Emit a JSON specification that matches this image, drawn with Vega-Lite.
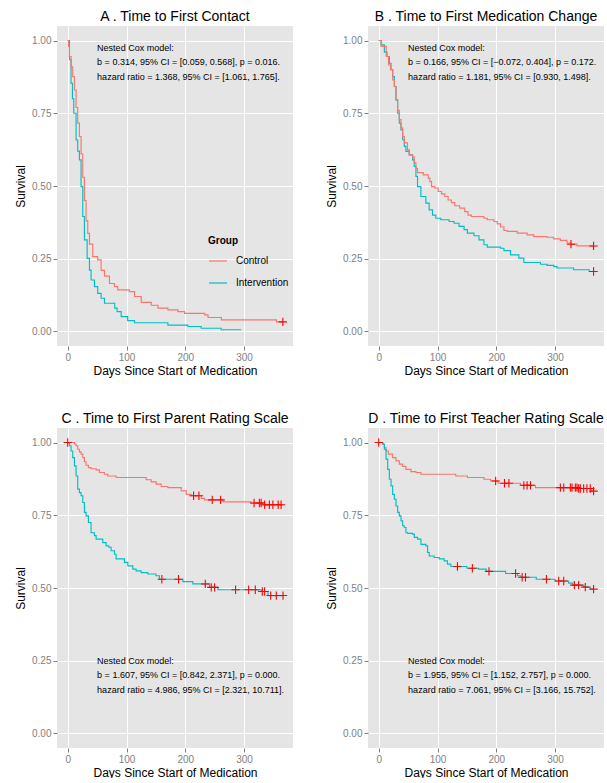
{
  "$schema": "https://vega.github.io/schema/vega-lite/v6.json",
  "padding": {"left": 14, "top": 10, "right": 0, "bottom": 0},
  "background": "#FFFFFF",
  "datasets": {
    "curves": [
      {"p":"A","g":"Intervention","d":0,"s":1},{"p":"A","g":"Intervention","d":3,"s":0.934},{"p":"A","g":"Intervention","d":5.7,"s":0.853},{"p":"A","g":"Intervention","d":8,"s":0.8},{"p":"A","g":"Intervention","d":10.3,"s":0.75},{"p":"A","g":"Intervention","d":14.2,"s":0.658},{"p":"A","g":"Intervention","d":17,"s":0.62},{"p":"A","g":"Intervention","d":19.9,"s":0.59},{"p":"A","g":"Intervention","d":22.7,"s":0.498},{"p":"A","g":"Intervention","d":25.6,"s":0.395},{"p":"A","g":"Intervention","d":28.4,"s":0.315},{"p":"A","g":"Intervention","d":33,"s":0.251},{"p":"A","g":"Intervention","d":37,"s":0.211},{"p":"A","g":"Intervention","d":39.7,"s":0.177},{"p":"A","g":"Intervention","d":45.4,"s":0.154},{"p":"A","g":"Intervention","d":51,"s":0.131},{"p":"A","g":"Intervention","d":56.8,"s":0.114},{"p":"A","g":"Intervention","d":62.5,"s":0.097},{"p":"A","g":"Intervention","d":80,"s":0.08},{"p":"A","g":"Intervention","d":84,"s":0.068},{"p":"A","g":"Intervention","d":90.9,"s":0.051},{"p":"A","g":"Intervention","d":102,"s":0.037},{"p":"A","g":"Intervention","d":113.6,"s":0.03},{"p":"A","g":"Intervention","d":170.4,"s":0.022},{"p":"A","g":"Intervention","d":204.4,"s":0.017},{"p":"A","g":"Intervention","d":227,"s":0.011},{"p":"A","g":"Intervention","d":261,"s":0.006},{"p":"A","g":"Intervention","d":295,"s":0.006},
      {"p":"A","g":"Control","d":0,"s":1},{"p":"A","g":"Control","d":1.5,"s":0.98},{"p":"A","g":"Control","d":2.8,"s":0.945},{"p":"A","g":"Control","d":5.7,"s":0.91},{"p":"A","g":"Control","d":8.5,"s":0.876},{"p":"A","g":"Control","d":11.4,"s":0.83},{"p":"A","g":"Control","d":14.2,"s":0.77},{"p":"A","g":"Control","d":17,"s":0.716},{"p":"A","g":"Control","d":19.9,"s":0.67},{"p":"A","g":"Control","d":22.7,"s":0.61},{"p":"A","g":"Control","d":25.6,"s":0.53},{"p":"A","g":"Control","d":28.4,"s":0.45},{"p":"A","g":"Control","d":31.2,"s":0.38},{"p":"A","g":"Control","d":34.1,"s":0.337},{"p":"A","g":"Control","d":37,"s":0.3},{"p":"A","g":"Control","d":42.6,"s":0.257},{"p":"A","g":"Control","d":51,"s":0.246},{"p":"A","g":"Control","d":56.8,"s":0.21},{"p":"A","g":"Control","d":62.5,"s":0.19},{"p":"A","g":"Control","d":71,"s":0.165},{"p":"A","g":"Control","d":79.5,"s":0.154},{"p":"A","g":"Control","d":85.2,"s":0.143},{"p":"A","g":"Control","d":105,"s":0.137},{"p":"A","g":"Control","d":113.6,"s":0.12},{"p":"A","g":"Control","d":125,"s":0.1},{"p":"A","g":"Control","d":142,"s":0.09},{"p":"A","g":"Control","d":153.6,"s":0.08},{"p":"A","g":"Control","d":170.4,"s":0.074},{"p":"A","g":"Control","d":187.4,"s":0.068},{"p":"A","g":"Control","d":198.8,"s":0.062},{"p":"A","g":"Control","d":233,"s":0.057},{"p":"A","g":"Control","d":238.6,"s":0.048},{"p":"A","g":"Control","d":261.4,"s":0.04},{"p":"A","g":"Control","d":355,"s":0.033},{"p":"A","g":"Control","d":366,"s":0.033},
      {"p":"B","g":"Intervention","d":0,"s":1},{"p":"B","g":"Intervention","d":4,"s":0.985},{"p":"B","g":"Intervention","d":9.6,"s":0.96},{"p":"B","g":"Intervention","d":14.1,"s":0.945},{"p":"B","g":"Intervention","d":18.1,"s":0.922},{"p":"B","g":"Intervention","d":20.9,"s":0.9},{"p":"B","g":"Intervention","d":23.7,"s":0.876},{"p":"B","g":"Intervention","d":26.6,"s":0.842},{"p":"B","g":"Intervention","d":29.4,"s":0.796},{"p":"B","g":"Intervention","d":32.2,"s":0.75},{"p":"B","g":"Intervention","d":35,"s":0.716},{"p":"B","g":"Intervention","d":37.8,"s":0.693},{"p":"B","g":"Intervention","d":40.7,"s":0.659},{"p":"B","g":"Intervention","d":43.5,"s":0.636},{"p":"B","g":"Intervention","d":46.3,"s":0.619},{"p":"B","g":"Intervention","d":51.9,"s":0.607},{"p":"B","g":"Intervention","d":57.6,"s":0.59},{"p":"B","g":"Intervention","d":60.4,"s":0.567},{"p":"B","g":"Intervention","d":63.3,"s":0.533},{"p":"B","g":"Intervention","d":66,"s":0.498},{"p":"B","g":"Intervention","d":71.7,"s":0.464},{"p":"B","g":"Intervention","d":80.2,"s":0.441},{"p":"B","g":"Intervention","d":85.8,"s":0.418},{"p":"B","g":"Intervention","d":91.5,"s":0.4},{"p":"B","g":"Intervention","d":97.1,"s":0.389},{"p":"B","g":"Intervention","d":105.6,"s":0.384},{"p":"B","g":"Intervention","d":119.7,"s":0.378},{"p":"B","g":"Intervention","d":128.2,"s":0.372},{"p":"B","g":"Intervention","d":136.7,"s":0.361},{"p":"B","g":"Intervention","d":145.2,"s":0.35},{"p":"B","g":"Intervention","d":150.8,"s":0.338},{"p":"B","g":"Intervention","d":162,"s":0.329},{"p":"B","g":"Intervention","d":170.6,"s":0.315},{"p":"B","g":"Intervention","d":179,"s":0.298},{"p":"B","g":"Intervention","d":184.7,"s":0.29},{"p":"B","g":"Intervention","d":207.3,"s":0.286},{"p":"B","g":"Intervention","d":213,"s":0.278},{"p":"B","g":"Intervention","d":224.3,"s":0.263},{"p":"B","g":"Intervention","d":238.4,"s":0.252},{"p":"B","g":"Intervention","d":246.9,"s":0.237},{"p":"B","g":"Intervention","d":275.1,"s":0.231},{"p":"B","g":"Intervention","d":286.4,"s":0.227},{"p":"B","g":"Intervention","d":297.7,"s":0.223},{"p":"B","g":"Intervention","d":303.4,"s":0.218},{"p":"B","g":"Intervention","d":331.6,"s":0.212},{"p":"B","g":"Intervention","d":358,"s":0.206},{"p":"B","g":"Intervention","d":365.5,"s":0.206},
      {"p":"B","g":"Control","d":0,"s":1},{"p":"B","g":"Control","d":4,"s":0.98},{"p":"B","g":"Control","d":12.7,"s":0.945},{"p":"B","g":"Control","d":16.6,"s":0.916},{"p":"B","g":"Control","d":20,"s":0.9},{"p":"B","g":"Control","d":23.7,"s":0.865},{"p":"B","g":"Control","d":26.6,"s":0.842},{"p":"B","g":"Control","d":29.4,"s":0.796},{"p":"B","g":"Control","d":32.2,"s":0.76},{"p":"B","g":"Control","d":35,"s":0.728},{"p":"B","g":"Control","d":37.8,"s":0.7},{"p":"B","g":"Control","d":40.7,"s":0.67},{"p":"B","g":"Control","d":43.5,"s":0.648},{"p":"B","g":"Control","d":48.9,"s":0.624},{"p":"B","g":"Control","d":51.9,"s":0.607},{"p":"B","g":"Control","d":57.6,"s":0.6},{"p":"B","g":"Control","d":60.4,"s":0.58},{"p":"B","g":"Control","d":63.3,"s":0.56},{"p":"B","g":"Control","d":66,"s":0.546},{"p":"B","g":"Control","d":75.7,"s":0.538},{"p":"B","g":"Control","d":84.2,"s":0.527},{"p":"B","g":"Control","d":87,"s":0.515},{"p":"B","g":"Control","d":89.8,"s":0.498},{"p":"B","g":"Control","d":95.5,"s":0.493},{"p":"B","g":"Control","d":101.2,"s":0.481},{"p":"B","g":"Control","d":106.8,"s":0.473},{"p":"B","g":"Control","d":112.4,"s":0.464},{"p":"B","g":"Control","d":118,"s":0.452},{"p":"B","g":"Control","d":123.7,"s":0.443},{"p":"B","g":"Control","d":129.4,"s":0.432},{"p":"B","g":"Control","d":137.8,"s":0.424},{"p":"B","g":"Control","d":146.3,"s":0.412},{"p":"B","g":"Control","d":151.9,"s":0.4},{"p":"B","g":"Control","d":157.6,"s":0.395},{"p":"B","g":"Control","d":179,"s":0.389},{"p":"B","g":"Control","d":184.7,"s":0.384},{"p":"B","g":"Control","d":196,"s":0.378},{"p":"B","g":"Control","d":201.6,"s":0.37},{"p":"B","g":"Control","d":207.3,"s":0.359},{"p":"B","g":"Control","d":213,"s":0.347},{"p":"B","g":"Control","d":218.6,"s":0.344},{"p":"B","g":"Control","d":235.6,"s":0.338},{"p":"B","g":"Control","d":252.5,"s":0.332},{"p":"B","g":"Control","d":263.8,"s":0.326},{"p":"B","g":"Control","d":286.4,"s":0.324},{"p":"B","g":"Control","d":297.7,"s":0.318},{"p":"B","g":"Control","d":309,"s":0.313},{"p":"B","g":"Control","d":320.3,"s":0.304},{"p":"B","g":"Control","d":327.1,"s":0.3},{"p":"B","g":"Control","d":337.3,"s":0.294},{"p":"B","g":"Control","d":365.5,"s":0.294},
      {"p":"C","g":"Control","d":0,"s":1},{"p":"C","g":"Control","d":11.4,"s":0.995},{"p":"C","g":"Control","d":14.2,"s":0.989},{"p":"C","g":"Control","d":17,"s":0.977},{"p":"C","g":"Control","d":19.9,"s":0.968},{"p":"C","g":"Control","d":22.7,"s":0.96},{"p":"C","g":"Control","d":25.6,"s":0.948},{"p":"C","g":"Control","d":28.4,"s":0.934},{"p":"C","g":"Control","d":31.2,"s":0.922},{"p":"C","g":"Control","d":35.2,"s":0.914},{"p":"C","g":"Control","d":39.7,"s":0.91},{"p":"C","g":"Control","d":48.3,"s":0.906},{"p":"C","g":"Control","d":53.9,"s":0.897},{"p":"C","g":"Control","d":62.5,"s":0.891},{"p":"C","g":"Control","d":68.1,"s":0.885},{"p":"C","g":"Control","d":82.3,"s":0.88},{"p":"C","g":"Control","d":133.4,"s":0.872},{"p":"C","g":"Control","d":142,"s":0.865},{"p":"C","g":"Control","d":150.5,"s":0.857},{"p":"C","g":"Control","d":159,"s":0.849},{"p":"C","g":"Control","d":170.4,"s":0.845},{"p":"C","g":"Control","d":193.1,"s":0.834},{"p":"C","g":"Control","d":201.6,"s":0.822},{"p":"C","g":"Control","d":210.1,"s":0.817},{"p":"C","g":"Control","d":227.1,"s":0.808},{"p":"C","g":"Control","d":232.8,"s":0.803},{"p":"C","g":"Control","d":264,"s":0.796},{"p":"C","g":"Control","d":312,"s":0.792},{"p":"C","g":"Control","d":332,"s":0.786},{"p":"C","g":"Control","d":365,"s":0.786},
      {"p":"C","g":"Intervention","d":0,"s":1},{"p":"C","g":"Intervention","d":2.8,"s":0.989},{"p":"C","g":"Intervention","d":5.7,"s":0.971},{"p":"C","g":"Intervention","d":8.5,"s":0.948},{"p":"C","g":"Intervention","d":11.4,"s":0.92},{"p":"C","g":"Intervention","d":14.2,"s":0.885},{"p":"C","g":"Intervention","d":17,"s":0.84},{"p":"C","g":"Intervention","d":19.9,"s":0.828},{"p":"C","g":"Intervention","d":22.7,"s":0.817},{"p":"C","g":"Intervention","d":25.6,"s":0.794},{"p":"C","g":"Intervention","d":28.4,"s":0.76},{"p":"C","g":"Intervention","d":31.2,"s":0.748},{"p":"C","g":"Intervention","d":35.2,"s":0.725},{"p":"C","g":"Intervention","d":39.7,"s":0.69},{"p":"C","g":"Intervention","d":45.4,"s":0.68},{"p":"C","g":"Intervention","d":48.3,"s":0.668},{"p":"C","g":"Intervention","d":59.6,"s":0.656},{"p":"C","g":"Intervention","d":65.3,"s":0.645},{"p":"C","g":"Intervention","d":70,"s":0.64},{"p":"C","g":"Intervention","d":73.8,"s":0.628},{"p":"C","g":"Intervention","d":79.5,"s":0.616},{"p":"C","g":"Intervention","d":82.3,"s":0.6},{"p":"C","g":"Intervention","d":96.5,"s":0.588},{"p":"C","g":"Intervention","d":102.2,"s":0.576},{"p":"C","g":"Intervention","d":110.7,"s":0.565},{"p":"C","g":"Intervention","d":116.4,"s":0.559},{"p":"C","g":"Intervention","d":124.9,"s":0.553},{"p":"C","g":"Intervention","d":136.3,"s":0.548},{"p":"C","g":"Intervention","d":150,"s":0.542},{"p":"C","g":"Intervention","d":156,"s":0.53},{"p":"C","g":"Intervention","d":195.9,"s":0.522},{"p":"C","g":"Intervention","d":212.9,"s":0.514},{"p":"C","g":"Intervention","d":241.3,"s":0.502},{"p":"C","g":"Intervention","d":255.5,"s":0.494},{"p":"C","g":"Intervention","d":329.4,"s":0.488},{"p":"C","g":"Intervention","d":340.7,"s":0.474},{"p":"C","g":"Intervention","d":366,"s":0.474},
      {"p":"D","g":"Control","d":0,"s":1},{"p":"D","g":"Control","d":6.8,"s":0.994},{"p":"D","g":"Control","d":9.6,"s":0.983},{"p":"D","g":"Control","d":12.4,"s":0.971},{"p":"D","g":"Control","d":16.4,"s":0.96},{"p":"D","g":"Control","d":23.7,"s":0.948},{"p":"D","g":"Control","d":29.4,"s":0.937},{"p":"D","g":"Control","d":35,"s":0.926},{"p":"D","g":"Control","d":40.7,"s":0.918},{"p":"D","g":"Control","d":46.3,"s":0.908},{"p":"D","g":"Control","d":54.8,"s":0.9},{"p":"D","g":"Control","d":63.3,"s":0.897},{"p":"D","g":"Control","d":71.8,"s":0.891},{"p":"D","g":"Control","d":131,"s":0.885},{"p":"D","g":"Control","d":150.8,"s":0.88},{"p":"D","g":"Control","d":179,"s":0.874},{"p":"D","g":"Control","d":190.4,"s":0.868},{"p":"D","g":"Control","d":203,"s":0.86},{"p":"D","g":"Control","d":241.2,"s":0.853},{"p":"D","g":"Control","d":266.7,"s":0.845},{"p":"D","g":"Control","d":340,"s":0.842},{"p":"D","g":"Control","d":362,"s":0.833},{"p":"D","g":"Control","d":366,"s":0.833},
      {"p":"D","g":"Intervention","d":0,"s":1},{"p":"D","g":"Intervention","d":6.8,"s":0.994},{"p":"D","g":"Intervention","d":9.6,"s":0.977},{"p":"D","g":"Intervention","d":12.4,"s":0.943},{"p":"D","g":"Intervention","d":15.3,"s":0.908},{"p":"D","g":"Intervention","d":18.1,"s":0.874},{"p":"D","g":"Intervention","d":20.9,"s":0.851},{"p":"D","g":"Intervention","d":23.7,"s":0.822},{"p":"D","g":"Intervention","d":26.6,"s":0.805},{"p":"D","g":"Intervention","d":29.4,"s":0.782},{"p":"D","g":"Intervention","d":32.2,"s":0.76},{"p":"D","g":"Intervention","d":35,"s":0.748},{"p":"D","g":"Intervention","d":37.9,"s":0.731},{"p":"D","g":"Intervention","d":40.7,"s":0.714},{"p":"D","g":"Intervention","d":43.5,"s":0.708},{"p":"D","g":"Intervention","d":46.3,"s":0.69},{"p":"D","g":"Intervention","d":49.2,"s":0.688},{"p":"D","g":"Intervention","d":57.6,"s":0.685},{"p":"D","g":"Intervention","d":60.5,"s":0.674},{"p":"D","g":"Intervention","d":66.1,"s":0.668},{"p":"D","g":"Intervention","d":71.8,"s":0.65},{"p":"D","g":"Intervention","d":80.2,"s":0.645},{"p":"D","g":"Intervention","d":83.1,"s":0.622},{"p":"D","g":"Intervention","d":85.9,"s":0.61},{"p":"D","g":"Intervention","d":94.4,"s":0.605},{"p":"D","g":"Intervention","d":102.8,"s":0.6},{"p":"D","g":"Intervention","d":111.3,"s":0.593},{"p":"D","g":"Intervention","d":116.9,"s":0.582},{"p":"D","g":"Intervention","d":122.6,"s":0.574},{"p":"D","g":"Intervention","d":150,"s":0.568},{"p":"D","g":"Intervention","d":170,"s":0.565},{"p":"D","g":"Intervention","d":183,"s":0.557},{"p":"D","g":"Intervention","d":215.8,"s":0.55},{"p":"D","g":"Intervention","d":236,"s":0.542},{"p":"D","g":"Intervention","d":241,"s":0.537},{"p":"D","g":"Intervention","d":268,"s":0.53},{"p":"D","g":"Intervention","d":300,"s":0.524},{"p":"D","g":"Intervention","d":323.2,"s":0.517},{"p":"D","g":"Intervention","d":330,"s":0.51},{"p":"D","g":"Intervention","d":348.6,"s":0.503},{"p":"D","g":"Intervention","d":360,"s":0.496},{"p":"D","g":"Intervention","d":366,"s":0.496}
    ],
    "censor": [
      {"p":"A","d":366,"s":0.033},
      {"p":"B","d":327.1,"s":0.3},{"p":"B","d":365.5,"s":0.294},{"p":"B","d":365.5,"s":0.206},
      {"p":"C","d":0,"s":1},{"p":"C","d":214.1,"s":0.817},{"p":"C","d":223.2,"s":0.817},{"p":"C","d":245.9,"s":0.803},{"p":"C","d":260.1,"s":0.803},{"p":"C","d":317,"s":0.792},{"p":"C","d":326,"s":0.792},{"p":"C","d":329,"s":0.792},{"p":"C","d":335,"s":0.786},{"p":"C","d":343,"s":0.786},{"p":"C","d":349,"s":0.786},{"p":"C","d":358,"s":0.786},{"p":"C","d":363,"s":0.786},
      {"p":"C","d":160.1,"s":0.53},{"p":"C","d":188.5,"s":0.53},{"p":"C","d":234,"s":0.514},{"p":"C","d":244.2,"s":0.502},{"p":"C","d":249.9,"s":0.502},{"p":"C","d":285.6,"s":0.494},{"p":"C","d":307.8,"s":0.494},{"p":"C","d":319.1,"s":0.494},{"p":"C","d":331,"s":0.488},{"p":"C","d":335,"s":0.488},{"p":"C","d":345.3,"s":0.474},{"p":"C","d":354.9,"s":0.474},{"p":"C","d":366.3,"s":0.474},
      {"p":"D","d":0,"s":1},{"p":"D","d":198.9,"s":0.868},{"p":"D","d":214,"s":0.86},{"p":"D","d":221.5,"s":0.86},{"p":"D","d":246.9,"s":0.853},{"p":"D","d":252.5,"s":0.853},{"p":"D","d":258.2,"s":0.853},{"p":"D","d":309,"s":0.845},{"p":"D","d":314.7,"s":0.845},{"p":"D","d":326,"s":0.845},{"p":"D","d":328.8,"s":0.845},{"p":"D","d":334.5,"s":0.845},{"p":"D","d":337.3,"s":0.845},{"p":"D","d":340.1,"s":0.842},{"p":"D","d":343,"s":0.842},{"p":"D","d":348.6,"s":0.842},{"p":"D","d":354.2,"s":0.842},{"p":"D","d":359.9,"s":0.842},{"p":"D","d":365.5,"s":0.833},
      {"p":"D","d":133.9,"s":0.574},{"p":"D","d":159.3,"s":0.568},{"p":"D","d":187.6,"s":0.557},{"p":"D","d":232.8,"s":0.55},{"p":"D","d":244,"s":0.537},{"p":"D","d":249.7,"s":0.537},{"p":"D","d":285.3,"s":0.53},{"p":"D","d":306.2,"s":0.524},{"p":"D","d":314.7,"s":0.524},{"p":"D","d":332.8,"s":0.51},{"p":"D","d":340.1,"s":0.51},{"p":"D","d":351.4,"s":0.503},{"p":"D","d":365.5,"s":0.496}
    ],
    "notes": [
      {"p":"A","t":"Nested Cox model:","y":0.975},
      {"p":"A","t":"b = 0.314, 95% CI = [0.059, 0.568], p = 0.016.","y":0.925},
      {"p":"A","t":"hazard ratio = 1.368, 95% CI = [1.061, 1.765].","y":0.875},
      {"p":"B","t":"Nested Cox model:","y":0.975},
      {"p":"B","t":"b = 0.166, 95% CI = [−0.072, 0.404], p = 0.172.","y":0.925},
      {"p":"B","t":"hazard ratio = 1.181, 95% CI = [0.930, 1.498].","y":0.875},
      {"p":"C","t":"Nested Cox model:","y":0.25},
      {"p":"C","t":"b = 1.607, 95% CI = [0.842, 2.371], p = 0.000.","y":0.2},
      {"p":"C","t":"hazard ratio = 4.986, 95% CI = [2.321, 10.711].","y":0.15},
      {"p":"D","t":"Nested Cox model:","y":0.25},
      {"p":"D","t":"b = 1.955, 95% CI = [1.152, 2.757], p = 0.000.","y":0.2},
      {"p":"D","t":"hazard ratio = 7.061, 95% CI = [3.166, 15.752].","y":0.15}
    ]
  },
  "columns": 2,
  "spacing": {"row": 82, "column": 75},
  "bounds": "flush",
  "concat": [
    {
      "width": 236, "height": 320,
      "title": "A . Time to First Contact",
      "layer": [
        {"data": {"name": "curves"}, "transform": [{"filter": "datum.p === 'A'"}],
         "mark": {"type": "line", "interpolate": "step-after", "strokeWidth": 1.15},
         "encoding": {
           "x": {"field": "d", "type": "quantitative", "title": "Days Since Start of Medication", "scale": {"domain": [-18.25, 383.25], "nice": false, "zero": false},
                 "axis": {"values": [0,50,100,150,200,250,300,350], "labelExpr": "datum.value % 100 === 0 ? datum.label : ''", "tickOpacity": {"condition": {"test": "datum.value % 100 !== 0", "value": 0}, "value": 1}, "gridColor": {"condition": {"test": "datum.value % 100 === 0", "value": "#FFFFFF"}, "value": "#F2F2F2"}, "gridWidth": {"condition": {"test": "datum.value % 100 === 0", "value": 1}, "value": 0.6}}},
           "y": {"field": "s", "type": "quantitative", "title": "Survival", "scale": {"domain": [-0.05, 1.05], "nice": false, "zero": false},
                 "axis": {"values": [0,0.125,0.25,0.375,0.5,0.625,0.75,0.875,1], "labelExpr": "(datum.value * 4) % 1 === 0 ? format(datum.value, '.2f') : ''", "tickOpacity": {"condition": {"test": "(datum.value * 4) % 1 !== 0", "value": 0}, "value": 1}, "gridColor": {"condition": {"test": "(datum.value * 4) % 1 === 0", "value": "#FFFFFF"}, "value": "#F2F2F2"}, "gridWidth": {"condition": {"test": "(datum.value * 4) % 1 === 0", "value": 1}, "value": 0.6}}},
           "color": {"field": "g", "type": "nominal", "scale": {"domain": ["Control", "Intervention"], "range": ["#F8766D", "#00BFC4"]},
                     "legend": {"title": "Group", "orient": "none", "legendX": 151, "legendY": 210}}
         }},
        {"data": {"name": "censor"}, "transform": [{"filter": "datum.p === 'A'"}],
         "mark": {"type": "point", "shape": "M-1,0L1,0M0,-1L0,1", "filled": false, "color": "#FF0000", "strokeWidth": 1.1, "size": 70, "opacity": 1},
         "encoding": {"x": {"field": "d", "type": "quantitative"}, "y": {"field": "s", "type": "quantitative"}}},
        {"data": {"name": "notes"}, "transform": [{"filter": "datum.p === 'A'"}],
         "mark": {"type": "text", "align": "left", "baseline": "middle", "fontSize": 9, "color": "#000000"},
         "encoding": {"x": {"datum": 50, "type": "quantitative"}, "y": {"field": "y", "type": "quantitative"}, "text": {"field": "t"}}}
      ]
    },
    {
      "width": 236, "height": 320,
      "title": "B . Time to First Medication Change",
      "layer": [
        {"data": {"name": "curves"}, "transform": [{"filter": "datum.p === 'B'"}],
         "mark": {"type": "line", "interpolate": "step-after", "strokeWidth": 1.15},
         "encoding": {
           "x": {"field": "d", "type": "quantitative", "title": "Days Since Start of Medication", "scale": {"domain": [-18.25, 383.25], "nice": false, "zero": false},
                 "axis": {"values": [0,50,100,150,200,250,300,350], "labelExpr": "datum.value % 100 === 0 ? datum.label : ''", "tickOpacity": {"condition": {"test": "datum.value % 100 !== 0", "value": 0}, "value": 1}, "gridColor": {"condition": {"test": "datum.value % 100 === 0", "value": "#FFFFFF"}, "value": "#F2F2F2"}, "gridWidth": {"condition": {"test": "datum.value % 100 === 0", "value": 1}, "value": 0.6}}},
           "y": {"field": "s", "type": "quantitative", "title": "Survival", "scale": {"domain": [-0.05, 1.05], "nice": false, "zero": false},
                 "axis": {"values": [0,0.125,0.25,0.375,0.5,0.625,0.75,0.875,1], "labelExpr": "(datum.value * 4) % 1 === 0 ? format(datum.value, '.2f') : ''", "tickOpacity": {"condition": {"test": "(datum.value * 4) % 1 !== 0", "value": 0}, "value": 1}, "gridColor": {"condition": {"test": "(datum.value * 4) % 1 === 0", "value": "#FFFFFF"}, "value": "#F2F2F2"}, "gridWidth": {"condition": {"test": "(datum.value * 4) % 1 === 0", "value": 1}, "value": 0.6}}},
           "color": {"field": "g", "type": "nominal", "scale": {"domain": ["Control", "Intervention"], "range": ["#F8766D", "#00BFC4"]},
                     "legend": {"title": "Group", "orient": "none", "legendX": 151, "legendY": 210}}
         }},
        {"data": {"name": "censor"}, "transform": [{"filter": "datum.p === 'B'"}],
         "mark": {"type": "point", "shape": "M-1,0L1,0M0,-1L0,1", "filled": false, "color": "#FF0000", "strokeWidth": 1.1, "size": 70, "opacity": 1},
         "encoding": {"x": {"field": "d", "type": "quantitative"}, "y": {"field": "s", "type": "quantitative"}}},
        {"data": {"name": "notes"}, "transform": [{"filter": "datum.p === 'B'"}],
         "mark": {"type": "text", "align": "left", "baseline": "middle", "fontSize": 9, "color": "#000000"},
         "encoding": {"x": {"datum": 50, "type": "quantitative"}, "y": {"field": "y", "type": "quantitative"}, "text": {"field": "t"}}}
      ]
    },
    {
      "width": 236, "height": 320,
      "title": "C . Time to First Parent Rating Scale",
      "layer": [
        {"data": {"name": "curves"}, "transform": [{"filter": "datum.p === 'C'"}],
         "mark": {"type": "line", "interpolate": "step-after", "strokeWidth": 1.15},
         "encoding": {
           "x": {"field": "d", "type": "quantitative", "title": "Days Since Start of Medication", "scale": {"domain": [-18.25, 383.25], "nice": false, "zero": false},
                 "axis": {"values": [0,50,100,150,200,250,300,350], "labelExpr": "datum.value % 100 === 0 ? datum.label : ''", "tickOpacity": {"condition": {"test": "datum.value % 100 !== 0", "value": 0}, "value": 1}, "gridColor": {"condition": {"test": "datum.value % 100 === 0", "value": "#FFFFFF"}, "value": "#F2F2F2"}, "gridWidth": {"condition": {"test": "datum.value % 100 === 0", "value": 1}, "value": 0.6}}},
           "y": {"field": "s", "type": "quantitative", "title": "Survival", "scale": {"domain": [-0.05, 1.05], "nice": false, "zero": false},
                 "axis": {"values": [0,0.125,0.25,0.375,0.5,0.625,0.75,0.875,1], "labelExpr": "(datum.value * 4) % 1 === 0 ? format(datum.value, '.2f') : ''", "tickOpacity": {"condition": {"test": "(datum.value * 4) % 1 !== 0", "value": 0}, "value": 1}, "gridColor": {"condition": {"test": "(datum.value * 4) % 1 === 0", "value": "#FFFFFF"}, "value": "#F2F2F2"}, "gridWidth": {"condition": {"test": "(datum.value * 4) % 1 === 0", "value": 1}, "value": 0.6}}},
           "color": {"field": "g", "type": "nominal", "scale": {"domain": ["Control", "Intervention"], "range": ["#F8766D", "#00BFC4"]},
                     "legend": {"title": "Group", "orient": "none", "legendX": 151, "legendY": 210}}
         }},
        {"data": {"name": "censor"}, "transform": [{"filter": "datum.p === 'C'"}],
         "mark": {"type": "point", "shape": "M-1,0L1,0M0,-1L0,1", "filled": false, "color": "#FF0000", "strokeWidth": 1.1, "size": 70, "opacity": 1},
         "encoding": {"x": {"field": "d", "type": "quantitative"}, "y": {"field": "s", "type": "quantitative"}}},
        {"data": {"name": "notes"}, "transform": [{"filter": "datum.p === 'C'"}],
         "mark": {"type": "text", "align": "left", "baseline": "middle", "fontSize": 9, "color": "#000000"},
         "encoding": {"x": {"datum": 50, "type": "quantitative"}, "y": {"field": "y", "type": "quantitative"}, "text": {"field": "t"}}}
      ]
    },
    {
      "width": 236, "height": 320,
      "title": "D . Time to First Teacher Rating Scale",
      "layer": [
        {"data": {"name": "curves"}, "transform": [{"filter": "datum.p === 'D'"}],
         "mark": {"type": "line", "interpolate": "step-after", "strokeWidth": 1.15},
         "encoding": {
           "x": {"field": "d", "type": "quantitative", "title": "Days Since Start of Medication", "scale": {"domain": [-18.25, 383.25], "nice": false, "zero": false},
                 "axis": {"values": [0,50,100,150,200,250,300,350], "labelExpr": "datum.value % 100 === 0 ? datum.label : ''", "tickOpacity": {"condition": {"test": "datum.value % 100 !== 0", "value": 0}, "value": 1}, "gridColor": {"condition": {"test": "datum.value % 100 === 0", "value": "#FFFFFF"}, "value": "#F2F2F2"}, "gridWidth": {"condition": {"test": "datum.value % 100 === 0", "value": 1}, "value": 0.6}}},
           "y": {"field": "s", "type": "quantitative", "title": "Survival", "scale": {"domain": [-0.05, 1.05], "nice": false, "zero": false},
                 "axis": {"values": [0,0.125,0.25,0.375,0.5,0.625,0.75,0.875,1], "labelExpr": "(datum.value * 4) % 1 === 0 ? format(datum.value, '.2f') : ''", "tickOpacity": {"condition": {"test": "(datum.value * 4) % 1 !== 0", "value": 0}, "value": 1}, "gridColor": {"condition": {"test": "(datum.value * 4) % 1 === 0", "value": "#FFFFFF"}, "value": "#F2F2F2"}, "gridWidth": {"condition": {"test": "(datum.value * 4) % 1 === 0", "value": 1}, "value": 0.6}}},
           "color": {"field": "g", "type": "nominal", "scale": {"domain": ["Control", "Intervention"], "range": ["#F8766D", "#00BFC4"]},
                     "legend": {"title": "Group", "orient": "none", "legendX": 151, "legendY": 210}}
         }},
        {"data": {"name": "censor"}, "transform": [{"filter": "datum.p === 'D'"}],
         "mark": {"type": "point", "shape": "M-1,0L1,0M0,-1L0,1", "filled": false, "color": "#FF0000", "strokeWidth": 1.1, "size": 70, "opacity": 1},
         "encoding": {"x": {"field": "d", "type": "quantitative"}, "y": {"field": "s", "type": "quantitative"}}},
        {"data": {"name": "notes"}, "transform": [{"filter": "datum.p === 'D'"}],
         "mark": {"type": "text", "align": "left", "baseline": "middle", "fontSize": 9, "color": "#000000"},
         "encoding": {"x": {"datum": 50, "type": "quantitative"}, "y": {"field": "y", "type": "quantitative"}, "text": {"field": "t"}}}
      ]
    }
  ],
  "resolve": {"scale": {"color": "shared"}, "legend": {"color": "shared"}},
  "config": {
    "font": "Liberation Sans",
    "view": {"fill": "#E5E5E5", "stroke": null},
    "axis": {"domain": false, "tickColor": "#7F7F7F", "tickSize": 4, "labelColor": "#7F7F7F", "labelFontSize": 10, "labelPadding": 2, "labelOverlap": false, "labelFlush": false, "titleFontSize": 12, "titleFontWeight": "normal", "titleColor": "#000000"},
    "axisX": {"titlePadding": 3},
    "axisY": {"titlePadding": 4},
    "title": {"fontSize": 14, "fontWeight": "normal", "anchor": "middle", "offset": 2, "baseline": "alphabetic", "color": "#000000"},
    "legend": {"symbolType": "stroke", "symbolSize": 324, "symbolStrokeWidth": 1.2, "labelFontSize": 10, "titleFontSize": 10, "titleFontWeight": "bold", "titleColor": "#000000", "labelColor": "#000000", "rowPadding": 7, "labelOffset": 8, "titlePadding": 5, "padding": 0}
  }
}
